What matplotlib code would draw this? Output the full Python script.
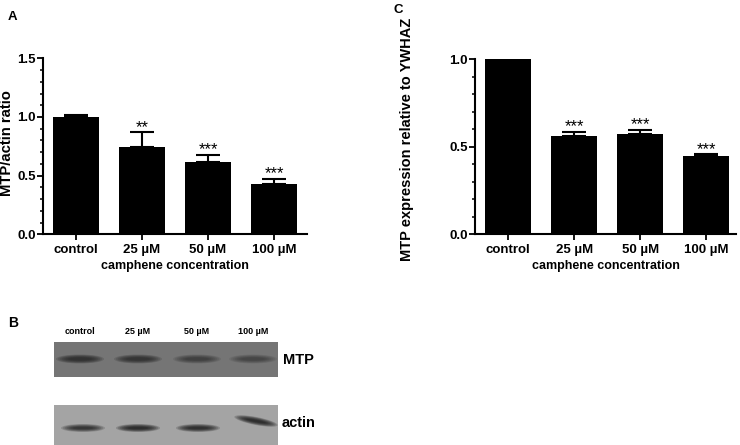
import matplotlib.pyplot as plt
from matplotlib.patches import Rectangle, Ellipse
from matplotlib.ticker import MultipleLocator

plt.rcParams['font.family'] = ['Liberation Sans', 'DejaVu Sans']
plt.rcParams['font.weight'] = 'bold'

categories = ['control', '25 µM', '50 µM', '100 µM']

# panel A: MTP/actin ratio
ratio_mean = [1.003, 0.741, 0.619, 0.429]
ratio_err = [0.011, 0.128, 0.057, 0.040]
ratio_stars = ['', '**', '***', '***']

# panel C: MTP expression relative to YWHAZ
expr_mean = [1.0, 0.562, 0.570, 0.448]
expr_err = [0.0, 0.023, 0.027, 0.008]
expr_stars = ['', '***', '***', '***']

# panel B: western blot band darkness (0..1) per lane
mtp_bands = [0.95, 0.85, 0.6, 0.5]
actin_bands = [0.85, 1.0, 0.95, 1.0]

W, H = 740, 445
fig = plt.figure(figsize=(W / 100, H / 100), dpi=100)


def bar_panel(rect, means, errs, stars, ymax, ylabel, ysize):
    ax = fig.add_axes(rect)
    x = list(range(len(categories)))
    ax.bar(x, means, width=0.7, color='black', zorder=2)
    ax.errorbar(x, means, yerr=[[0] * len(errs), errs], fmt='none',
                ecolor='black', elinewidth=1.5, capsize=8.5, capthick=1.5, zorder=3)
    for xi, m, e, s in zip(x, means, errs, stars):
        if s:
            ax.annotate(s, (xi, m + e), xytext=(0, 0.5), textcoords='offset points',
                        ha='center', va='baseline', fontsize=12, fontweight='normal')
    ax.set_ylim(0, ymax)
    ax.yaxis.set_major_locator(MultipleLocator(0.5))
    ax.yaxis.set_minor_locator(MultipleLocator(0.1))
    ax.yaxis.set_major_formatter(plt.FuncFormatter(lambda v, p: f'{v:.1f}'))
    ax.set_xticks(x)
    ax.set_xticklabels(categories, fontsize=9.5, fontweight='bold')
    ax.tick_params(axis='y', labelsize=9.5, width=1.3, length=4, direction='out', pad=1)
    ax.tick_params(axis='y', which='minor', width=1.1, length=2.5)
    ax.tick_params(axis='x', width=1.3, length=4, pad=3)
    for lab in ax.get_yticklabels():
        lab.set_fontweight('bold')
    ax.spines['top'].set_visible(False)
    ax.spines['right'].set_visible(False)
    ax.spines['left'].set_linewidth(1.5)
    ax.spines['bottom'].set_linewidth(1.5)
    ax.set_xlabel('camphene concentration', fontsize=9, fontweight='bold', labelpad=3)
    ax.set_ylabel(ylabel, fontsize=ysize, fontweight='bold')
    return ax


axA = bar_panel([43 / W, 1 - 234.3 / H, 264 / W, 176 / H],
                ratio_mean, ratio_err, ratio_stars, 1.5, 'MTP/actin ratio', 10.7)
axA.set_xlim(-0.5, 3.5)
axA.yaxis.set_label_coords(-29 / 264, 0.516)

axC = bar_panel([475 / W, 1 - 234.3 / H, 261 / W, 175.3 / H],
                expr_mean, expr_err, expr_stars, 1.0,
                'MTP expression relative to YWHAZ', 10.5)
axC.set_xlim(-0.5, 3.45)
axC.yaxis.set_label_coords(-61 / 261, 0.54)

# overlay in pixel coordinates for panel labels and the blot
ov = fig.add_axes([0, 0, 1, 1], zorder=-1)
ov.set_xlim(0, W)
ov.set_ylim(H, 0)
ov.axis('off')

ov.text(8, 20, 'A', fontsize=9.5, fontweight='bold')
ov.text(393, 13, 'C', fontsize=9.5, fontweight='bold')
ov.text(8, 327, 'B', fontsize=10, fontweight='bold')

lane_x = [80, 138, 197, 253]
for lx, lab in zip(lane_x, categories):
    ov.text(lx, 336, lab, ha='center', va='bottom', fontsize=6.5, fontweight='bold')

# MTP blot
ov.add_patch(Rectangle((54, 342), 224, 35, facecolor='#757575', edgecolor='none'))
for lx, d in zip(lane_x, mtp_bands):
    for k in range(7):
        ov.add_patch(Ellipse((lx, 359), 48 - k * 4, 9 - k, facecolor='#202020',
                             edgecolor='none', alpha=0.2 * d))
ov.text(283, 360, 'MTP', va='center', fontsize=10.5, fontweight='bold')

# actin blot
ov.add_patch(Rectangle((54, 405), 224, 41, facecolor='#a4a4a4', edgecolor='none'))
actin_pos = [(83, 428, 0), (138, 428, 0), (198, 428, 0), (256, 421, 11)]
for (bx, by, ang), d in zip(actin_pos, actin_bands):
    for k in range(7):
        ov.add_patch(Ellipse((bx, by), 44 - k * 4, 8 - k, angle=ang, facecolor='#101010',
                             edgecolor='none', alpha=0.2 * d))
ov.text(282, 423, 'actin', va='center', fontsize=10.5, fontweight='bold')

fig.savefig('out.png', dpi=100)
